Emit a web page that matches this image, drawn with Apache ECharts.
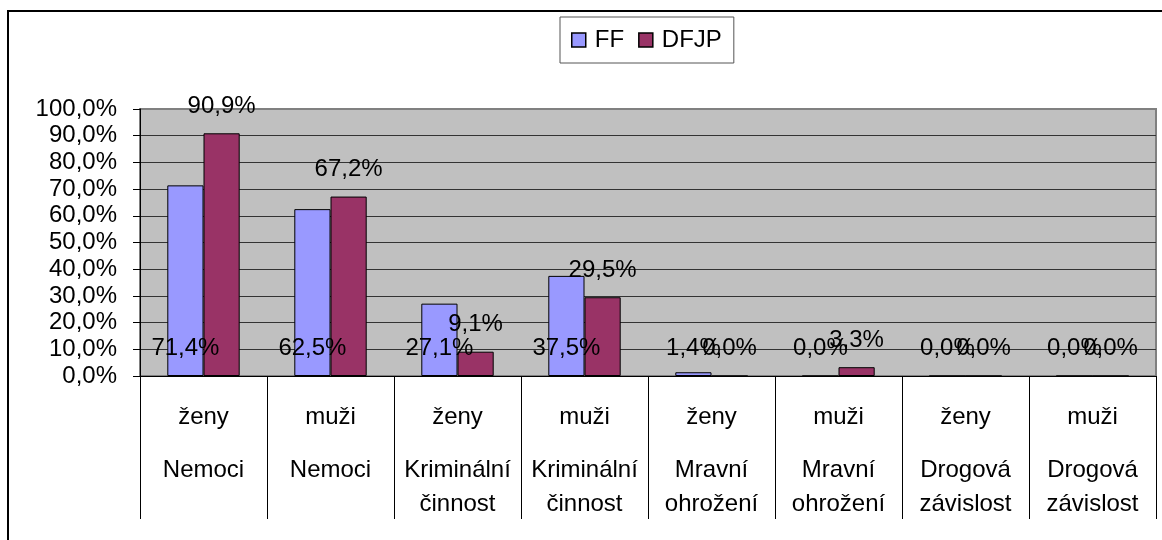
<!DOCTYPE html>
<html>
<head>
<meta charset="utf-8">
<script src="https://cdn.jsdelivr.net/npm/echarts@6/dist/echarts.min.js"></script>
<style>
  html, body { margin: 0; padding: 0; background: #fff; }
  #chart { width: 1162px; height: 540px; }
</style>
</head>
<body>
<div id="chart"></div>
<script>
// ---- data ----
const genders = ['ženy', 'muži', 'ženy', 'muži', 'ženy', 'muži', 'ženy', 'muži'];
const groups = ['Nemoci', 'Nemoci', 'Kriminální\nčinnost', 'Kriminální\nčinnost',
                'Mravní\nohrožení', 'Mravní\nohrožení', 'Drogová\nzávislost', 'Drogová\nzávislost'];
const seriesNames = ['FF', 'DFJP'];
const ffValues = [71.4, 62.5, 27.1, 37.5, 1.4, 0.0, 0.0, 0.0];
const dfjpValues = [90.9, 67.2, 9.1, 29.5, 0.0, 3.3, 0.0, 0.0];
const yTicks = { min: 0, max: 100, interval: 10 };

const categories = genders.map((g, i) => g + '|' + groups[i]);
const FONT = "'Liberation Sans', Arial, sans-serif";
const fmtPct = v => Number(v).toFixed(1).replace('.', ',') + '%';

const chart = echarts.init(document.getElementById('chart'), null, { renderer: 'canvas' });
chart.setOption({
  backgroundColor: '#ffffff',
  animation: false,
  textStyle: { fontFamily: FONT, color: '#000' },
  graphic: [{
    type: 'rect',
    shape: { x: 8, y: 11, width: 1300, height: 700 },
    style: { fill: 'none', stroke: '#000', lineWidth: 2 },
    z: 100
  }],
  legend: {
    left: 560, top: 17,
    padding: [11, 12, 11, 11],
    itemWidth: 14, itemHeight: 14, itemGap: 14,
    borderColor: '#555', borderWidth: 1,
    icon: 'rect',
    itemStyle: { borderColor: '#000', borderWidth: 1.5 },
    textStyle: { fontFamily: FONT, fontSize: 24, color: '#000', padding: [0, 0, 0, 4] },
    data: seriesNames
  },
  grid: {
    left: 140, top: 109, right: 6, bottom: 164,
    show: true, backgroundColor: '#C0C0C0', borderColor: '#808080', borderWidth: 2
  },
  xAxis: {
    type: 'category',
    data: categories,
    axisLine: { show: true, lineStyle: { color: '#000', width: 1 } },
    axisTick: { show: true, interval: 0, length: 143, lineStyle: { color: '#000', width: 1 } },
    axisLabel: {
      interval: 0, margin: 5, color: '#000', fontFamily: FONT, fontSize: 24,
      formatter: function (v) {
        const parts = v.split('|');
        const lines = parts[1].split('\n').map(s => '{b|' + s + '}');
        return '{a|' + parts[0] + '}\n' + lines.join('\n');
      },
      rich: {
        a: { fontFamily: FONT, fontSize: 24, lineHeight: 72, color: '#000' },
        b: { fontFamily: FONT, fontSize: 24, lineHeight: 34, color: '#000' }
      }
    }
  },
  yAxis: {
    type: 'value',
    min: yTicks.min, max: yTicks.max, interval: yTicks.interval,
    axisLine: { show: true, lineStyle: { color: '#000', width: 1 } },
    axisTick: { show: true, length: 7, lineStyle: { color: '#000' } },
    axisLabel: { margin: 23, fontFamily: FONT, fontSize: 24, color: '#000', formatter: fmtPct },
    splitLine: { show: true, lineStyle: { color: ['#000','#333','#333','#333','#333','#333','#333','#333','#333','#333','#808080'], width: 1 } }
  },
  series: [
    {
      name: seriesNames[0], type: 'bar', data: ffValues,
      barGap: '0%', barCategoryGap: '43%',
      itemStyle: { color: '#9999FF', borderColor: '#000', borderWidth: 1 },
      label: { show: true, position: 'insideBottom', distance: 16,
               fontFamily: FONT, fontSize: 24, color: '#000', formatter: p => fmtPct(p.value) }
    },
    {
      name: seriesNames[1], type: 'bar', data: dfjpValues,
      barGap: '0%', barCategoryGap: '43%',
      itemStyle: { color: '#993366', borderColor: '#000', borderWidth: 1 },
      label: { show: true, position: 'top', distance: 15,
               fontFamily: FONT, fontSize: 24, color: '#000', formatter: p => fmtPct(p.value) }
    }
  ]
});
</script>
</body>
</html>
